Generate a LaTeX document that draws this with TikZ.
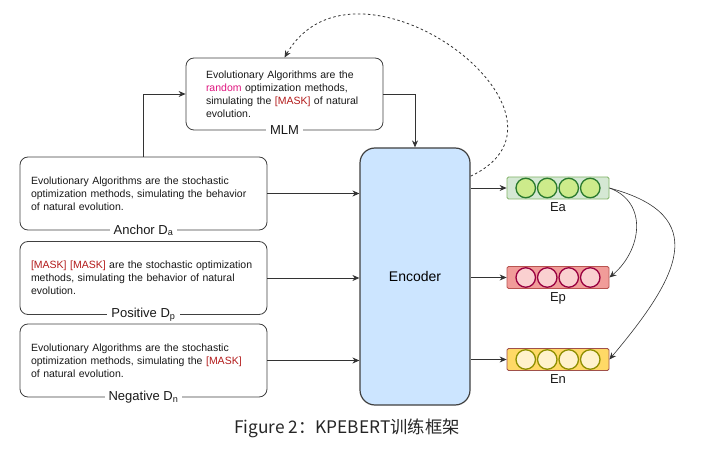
\documentclass[tikz,border=0pt]{standalone}
\usepackage{fontspec}
\setmainfont{Liberation Sans}
\newfontfamily\cjk{Noto Sans CJK SC}
\usepackage{tikz}
\usetikzlibrary{positioning,arrows.meta,calc}
\definecolor{encblue}{HTML}{CCE5FF}
\definecolor{rndpink}{HTML}{E0157F}
\definecolor{maskred}{HTML}{B31B1B}
\definecolor{agreen}{HTML}{D5E8D4}
\definecolor{agreenl}{HTML}{82B366}
\definecolor{adot}{HTML}{CDEB8B}
\definecolor{adotl}{HTML}{2A7A2E}
\definecolor{pred}{HTML}{F19C99}
\definecolor{predl}{HTML}{B85450}
\definecolor{pdot}{HTML}{FAD0D0}
\definecolor{pdotl}{HTML}{990040}
\definecolor{nyel}{HTML}{FFD966}
\definecolor{nyell}{HTML}{A0504A}
\definecolor{ndot}{HTML}{FFF2CC}
\definecolor{ndotl}{HTML}{8F8F00}
\newcommand{\msk}{\textcolor{maskred}{[MASK]}}
\tikzset{
  sample/.style={draw=black!75,line width=0.8pt,rounded corners=8pt,fill=white,
    align=left,text width=225pt,inner xsep=11pt,minimum height=73pt,
    font=\fontsize{10.5}{13}\selectfont,text=black!90},
  masked/.style={sample,text width=157pt,inner xsep=20pt,minimum height=72pt},
  tag/.style={fill=white,inner xsep=4pt,inner ysep=1pt,anchor=center,
    font=\fontsize{13}{15}\selectfont,text=black!90},
  encoder/.style={draw=black!75,line width=1.2pt,rounded corners=15pt,fill=encblue,
    minimum width=110pt,minimum height=257pt,font=\fontsize{14}{16}\selectfont},
  emb/.style={line width=0.8pt,rounded corners=1.5pt,minimum width=102pt,minimum height=22pt,
    label distance=4pt},
  dot/.style={circle,line width=1.3pt,minimum size=19.5pt,inner sep=0pt},
  elabel/.style={font=\fontsize{13}{15}\selectfont,text=black!90},
  arr/.style={-{Stealth[length=7pt,width=6pt]},line width=0.8pt,draw=black!80},
  loopback/.style={arr,dash pattern=on 2.5pt off 2.5pt}
}

\begin{document}
\begin{tikzpicture}[x=1pt,y=1pt]
\useasboundingbox (0,0) rectangle (701,-462);
\node[masked] (mlm) at (284.5,-94) [label={[tag]south:MLM}]
  {Evolutionary Algorithms are the\\ \textcolor{rndpink}{random} optimization methods,\\ simulating the \msk{} of natural\\ evolution.};
\node[sample] (anc) at (143.5,-193.5) [label={[tag]south:Anchor D\textsubscript{a}}]
  {Evolutionary Algorithms are the stochastic\\ optimization methods, simulating the behavior\\ of natural evolution.};
\node[sample] (pos) at (143.5,-278) [label={[tag]south:Positive D\textsubscript{p}}]
  {\msk{} \msk{} are the stochastic optimization\\ methods, simulating the behavior of natural\\ evolution.};
\node[sample] (neg) at (143.5,-360.5) [label={[tag]south:Negative D\textsubscript{n}}]
  {Evolutionary Algorithms are the stochastic\\ optimization methods, simulating the \msk\\ of natural evolution.};
\node[encoder] (enc) at (415,-276.5) {Encoder};
\node[emb,fill=agreen,draw=agreenl] (ea) at (558,-188) [label={[elabel]below:Ea}] {};
\node[emb,fill=pred,draw=predl] (ep) at (558,-277.5) [label={[elabel]below:Ep}] {};
\node[emb,fill=nyel,draw=nyell] (en) at (558,-359.5) [label={[elabel]below:En}] {};
\foreach \i in {1,...,4} {
  \node[dot,fill=adot,draw=adotl] (ea\i) at ($(ea.center)+({(\i-2.5)*21.5},0)$) {};
  \node[dot,fill=pdot,draw=pdotl] (ep\i) at ($(ep.center)+({(\i-2.5)*21.5},0)$) {};
  \node[dot,fill=ndot,draw=ndotl] (en\i) at ($(en.center)+({(\i-2.5)*21.5},0)$) {};
}
\draw[arr] (anc.north) |- (mlm.west);
\draw[arr] (mlm.east) -| (enc.north);
\draw[arr] (anc.east) -- (anc.east -| enc.west);
\draw[arr] (pos.east) -- (pos.east -| enc.west);
\draw[arr] (neg.east) -- (neg.east -| enc.west);
\draw[arr] (ea.west -| enc.east) -- (ea.west);
\draw[arr] (ep.west -| enc.east) -- (ep.west);
\draw[arr] (en.west -| enc.east) -- (en.west);
\draw[loopback] (enc.61) to[out=25,in=60,looseness=1.65] (mlm.north);
\draw[arr,line width=0.6pt] (ea.east) to[out=-20,in=40,looseness=1.2] (ep.east);
\draw[arr,line width=0.6pt] (ea.east) to[out=-15,in=50,looseness=1.6] (en.east);
\node[text=black!85,font=\cjk\fontsize{17.3}{19}\selectfont] (cap) at (347,-428) {Figure 2：KPEBERT训练框架};
\end{tikzpicture}
\end{document}
